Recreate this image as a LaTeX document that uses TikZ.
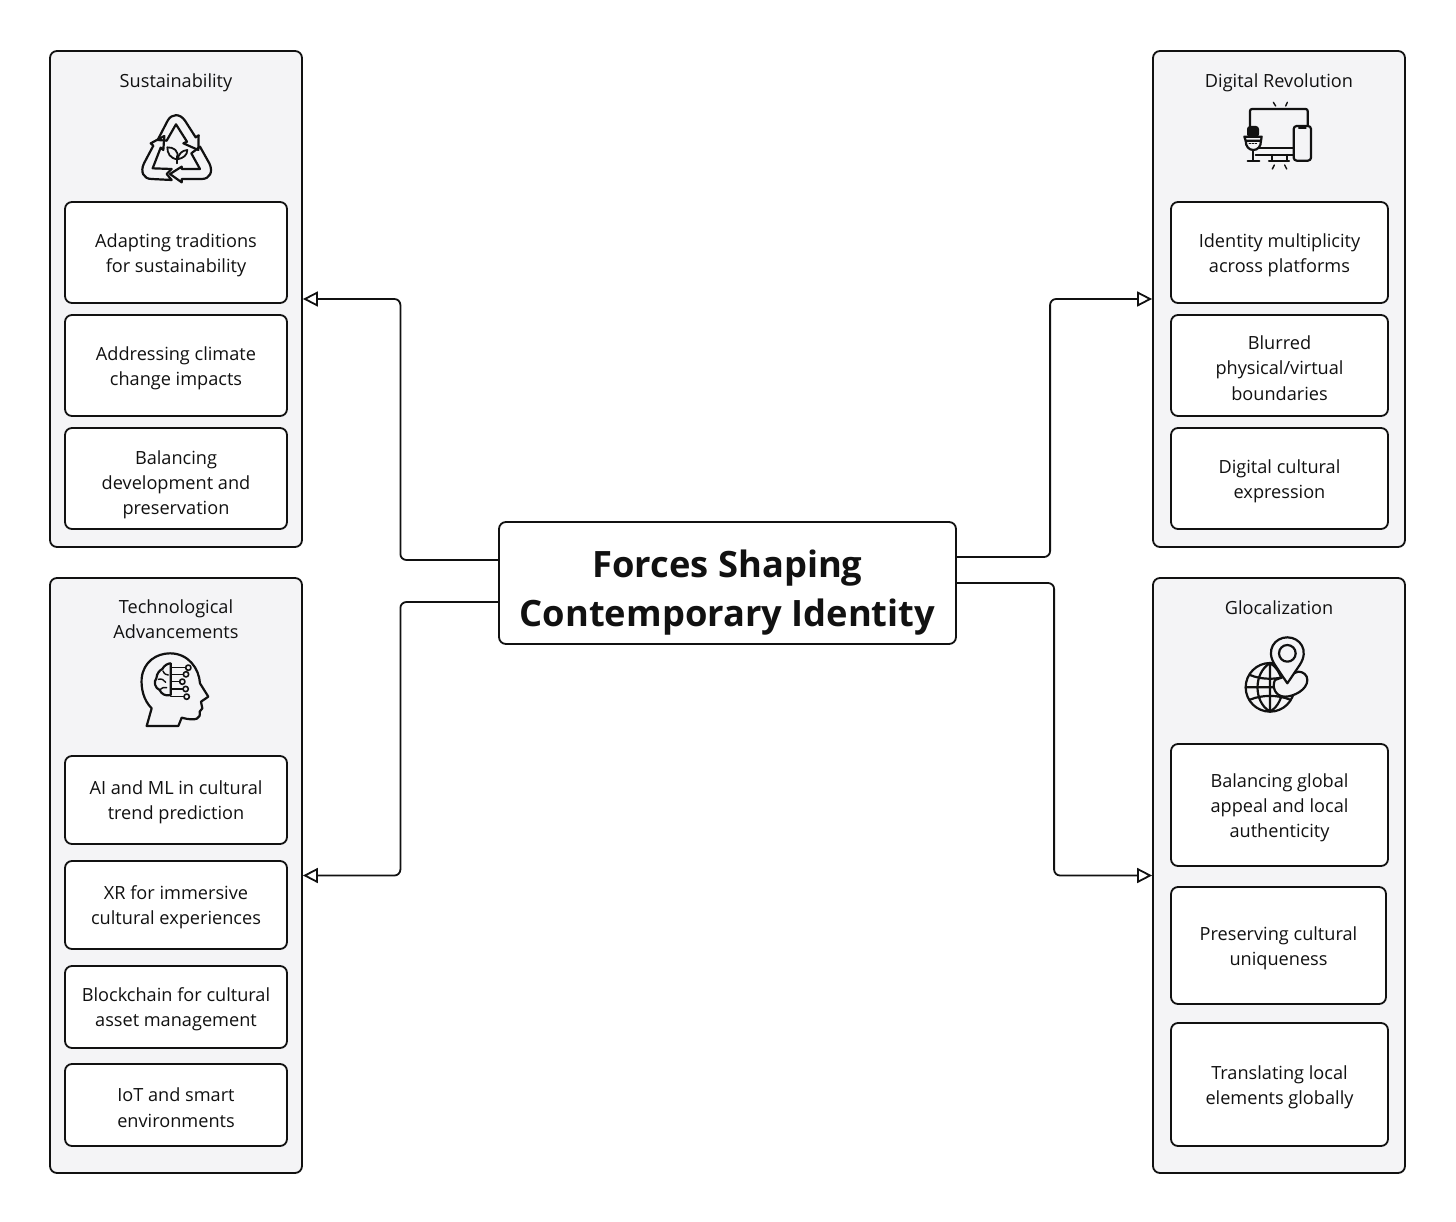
\documentclass[tikz,border=0pt]{standalone}
\usepackage{fontspec}
\setmainfont{Open Sans}
\usetikzlibrary{arrows.meta}
\definecolor{panelgray}{HTML}{F4F4F6}
\definecolor{inkblack}{HTML}{111111}
\newcommand{\itemstrut}{\rule{0pt}{19pt}}
\newcommand{\tallstrut}{\rule{0pt}{26pt}}
\tikzset{
  panel/.style={draw=inkblack,line width=1.8pt,fill=panelgray,rounded corners=7pt,inner sep=0pt,minimum width=252pt},
  itembox/.style={draw=inkblack,line width=1.8pt,fill=white,rounded corners=7pt,inner sep=0pt,align=center,text=inkblack,
    font=\fontsize{18.15}{25.3}\selectfont},
  headtext/.style={align=center,text=inkblack,inner sep=0pt,font=\fontsize{18.15}{25}\selectfont},
  link/.style={draw=inkblack,line width=1.8pt,rounded corners=6pt,-{Triangle[open,length=15pt,width=15pt,line width=1.8pt]}},
  icon/.style={draw=inkblack,line width=2.2pt,line join=round,line cap=round},
}
\begin{document}
\begin{tikzpicture}[x=1pt,y=-1pt]
\useasboundingbox (0,0) rectangle (1456,1222);

% panels
\node[panel,minimum height=496pt] (sust) at (176,299){};
\node[panel,minimum height=496pt] (digital) at (1279,299){};
\node[panel,minimum height=595pt] (tech) at (176,875.5){};
\node[panel,minimum height=595pt] (gloc) at (1279,875.5){};

% centre box
\node[draw=inkblack,line width=1.8pt,fill=white,rounded corners=7pt,inner sep=0pt,minimum width=457pt,minimum height=122pt,
  align=center,text=inkblack,font=\fontsize{36.3}{49}\selectfont\bfseries] (hub) at (727.5,583){\rule{0pt}{47pt}Forces Shaping\\Contemporary Identity};

% panel titles
\node[headtext] (sustTitle) at (176,83){Sustainability};
\node[headtext] (digitalTitle) at (1279,83){Digital Revolution};
\node[headtext] (techTitle) at (176,619.5){Technological\\Advancements};
\node[headtext] (glocTitle) at (1279,608){Glocalization};

% left top
\node[itembox,minimum width=222pt,minimum height=101pt] (sustA) at (176,252.5){\itemstrut Adapting traditions\\for sustainability};
\node[itembox,minimum width=222pt,minimum height=101pt] (sustB) at (176,365.5){\itemstrut Addressing climate\\change impacts};
\node[itembox,minimum width=222pt,minimum height=101pt] (sustC) at (176,478.5){\tallstrut Balancing\\development and\\preservation};

% right top
\node[itembox,minimum width=217pt,minimum height=101pt] (digitalA) at (1279.5,252.5){\itemstrut Identity multiplicity\\across platforms};
\node[itembox,minimum width=217pt,minimum height=101pt] (digitalB) at (1279.5,365.5){\itemstrut Blurred\\physical/virtual\\boundaries};
\node[itembox,minimum width=217pt,minimum height=101pt] (digitalC) at (1279.5,478.5){\itemstrut Digital cultural\\expression};

% left bottom
\node[itembox,minimum width=222pt,minimum height=88pt] (techA) at (176,800){\itemstrut AI and ML in cultural\\trend prediction};
\node[itembox,minimum width=222pt,minimum height=88pt] (techB) at (176,905){\itemstrut XR for immersive\\cultural experiences};
\node[itembox,minimum width=222pt,minimum height=82pt] (techC) at (176,1007){\itemstrut Blockchain for cultural\\asset management};
\node[itembox,minimum width=222pt,minimum height=82pt] (techD) at (176,1105){\itemstrut IoT and smart\\environments};

% right bottom
\node[itembox,minimum width=217pt,minimum height=122pt] (glocA) at (1279.5,805){\itemstrut Balancing global\\appeal and local\\authenticity};
\node[itembox,minimum width=215pt,minimum height=117pt] (glocB) at (1278.5,945.5){\itemstrut Preserving cultural\\uniqueness};
\node[itembox,minimum width=217pt,minimum height=123pt] (glocC) at (1279.5,1084.5){\itemstrut Translating local\\elements globally};

% connectors
\draw[link] ([yshift=23pt]hub.west) -| ([xshift=97.5pt]sust.east) -- (sust.east);
\draw[link] ([yshift=-19pt]hub.west) -| ([xshift=97.5pt]tech.east) -- (tech.east);
\draw[link] ([yshift=26pt]hub.east) -| ([xshift=-102pt]digital.west) -- (digital.west);
\draw[link] (hub.east) -| ([xshift=-98pt]gloc.west) -- (gloc.west);

% recycle icon
\begin{scope}[shift={(120,100)},scale=1/3]
\draw[icon] (113,120) -- (143,62) .. controls (155,40) and (180,40) .. (195,62) -- (227,112) -- (236,106) -- (235,150) -- (190,130) -- (201,125) -- (168,73) -- (140,122) -- cycle;
\draw[icon] (240,140) -- (268,190) .. controls (280,215) and (270,237) .. (245,237) -- (185,237) -- (185,247) -- (150,222) -- (185,200) -- (185,207) -- (240,207) -- (214,160) -- cycle;
\draw[icon] (155,240) -- (95,237) .. controls (70,237) and (60,215) .. (72,190) -- (100,137) -- (92,130) -- (133,108) -- (130,150) -- (122,143) -- (98,205) -- (155,207) -- (140,222) -- cycle;
\draw[icon,line width=1.8pt] (172,190) -- (172,168);
\draw[icon,line width=1.8pt] (172,178) .. controls (150,175) and (142,160) .. (142,142) .. controls (160,142) and (178,150) .. (172,178);
\draw[icon,line width=1.8pt] (172,178) .. controls (178,160) and (185,152) .. (202,150) .. controls (202,165) and (190,175) .. (172,178);
\end{scope}

% digital icon
\begin{scope}[shift={(1225,95)},scale=1/3]
\draw[icon,rounded corners=2pt] (75,95) -- (75,42) -- (248,42) -- (248,93);
\draw[icon] (100,160) -- (206,160) (92,180) -- (206,180);
\draw[icon] (140,180) -- (140,198) (185,180) -- (185,198) (132,198) -- (192,198);
\draw[icon,rounded corners=3pt] (206,93) rectangle (258,197);
\draw[icon] (222,99) -- (242,99);
\fill[inkblack,rounded corners=3pt] (66,127) -- (66,93) -- (102,93) -- (102,127) -- cycle;
\draw[icon] (58,125) -- (110,125) -- (108,137) -- (62,137) -- cycle;
\draw[icon] (62,137) .. controls (62,155) and (72,165) .. (85,165) .. controls (98,165) and (108,155) .. (108,137);
\draw[icon,line width=1pt,dash pattern=on 1.5pt off 1.5pt] (72,146) -- (98,146);
\draw[icon] (85,165) -- (85,195) (68,197) -- (103,197);
\draw[icon,line width=1.4pt] (145,22) -- (152,33) (187,22) -- (182,33) (142,222) -- (148,210) (185,222) -- (179,210);
\end{scope}

% head icon
\begin{scope}[shift={(125,645)},scale=1/3]
\draw[icon] (65,243) -- (80,190) .. controls (55,165) and (48,130) .. (50,100) .. controls (55,50) and (95,25) .. (135,25) .. controls (190,25) and (222,70) .. (225,115) -- (250,155) -- (228,170) -- (232,190) -- (224,200) .. controls (228,220) and (215,230) .. (170,218) -- (160,243) -- cycle;
\draw[icon] (137,55) -- (137,150) .. controls (120,155) and (108,145) .. (104,135) .. controls (90,130) and (85,110) .. (94,100) .. controls (95,85) and (105,75) .. (112,72) .. controls (118,60) and (130,55) .. (137,55);
\draw[icon,line width=1.4pt] (104,135) .. controls (112,128) and (118,125) .. (125,128) (100,103) .. controls (110,100) and (118,105) .. (122,112) (114,78) .. controls (118,88) and (125,90) .. (130,90);
\draw[icon,line width=1.6pt] (137,68) -- (182,68) (137,88) -- (175,88) (137,110) -- (164,110) (137,132) -- (174,132) (137,155) -- (177,155);
\draw[icon,line width=1.6pt] (190,68) circle[radius=8] (183,88) circle[radius=8] (172,110) circle[radius=8] (182,132) circle[radius=8] (185,155) circle[radius=8];
\end{scope}

% globe icon
\begin{scope}[shift={(1230,630)},scale=1/3]
\draw[icon] (120,172) circle[radius=73];
\draw[icon] (120,99) .. controls (70,130) and (70,215) .. (120,245) (120,99) .. controls (170,130) and (170,215) .. (120,245) (120,99) -- (120,245);
\draw[icon] (47,172) -- (193,172) (60,135) .. controls (95,150) and (145,150) .. (180,135) (60,209) .. controls (95,194) and (145,194) .. (180,209);
\draw[icon,fill=panelgray] (135,150) .. controls (125,170) and (135,200) .. (165,200) .. controls (190,200) and (232,180) .. (232,150) .. controls (232,135) and (220,125) .. (205,125) -- cycle;
\draw[icon,fill=panelgray] (172,160) -- (135,105) .. controls (105,60) and (135,22) .. (172,22) .. controls (209,22) and (239,60) .. (209,105) -- cycle;
\draw[icon] (172,70) circle[radius=25];
\end{scope}
\end{tikzpicture}
\end{document}
